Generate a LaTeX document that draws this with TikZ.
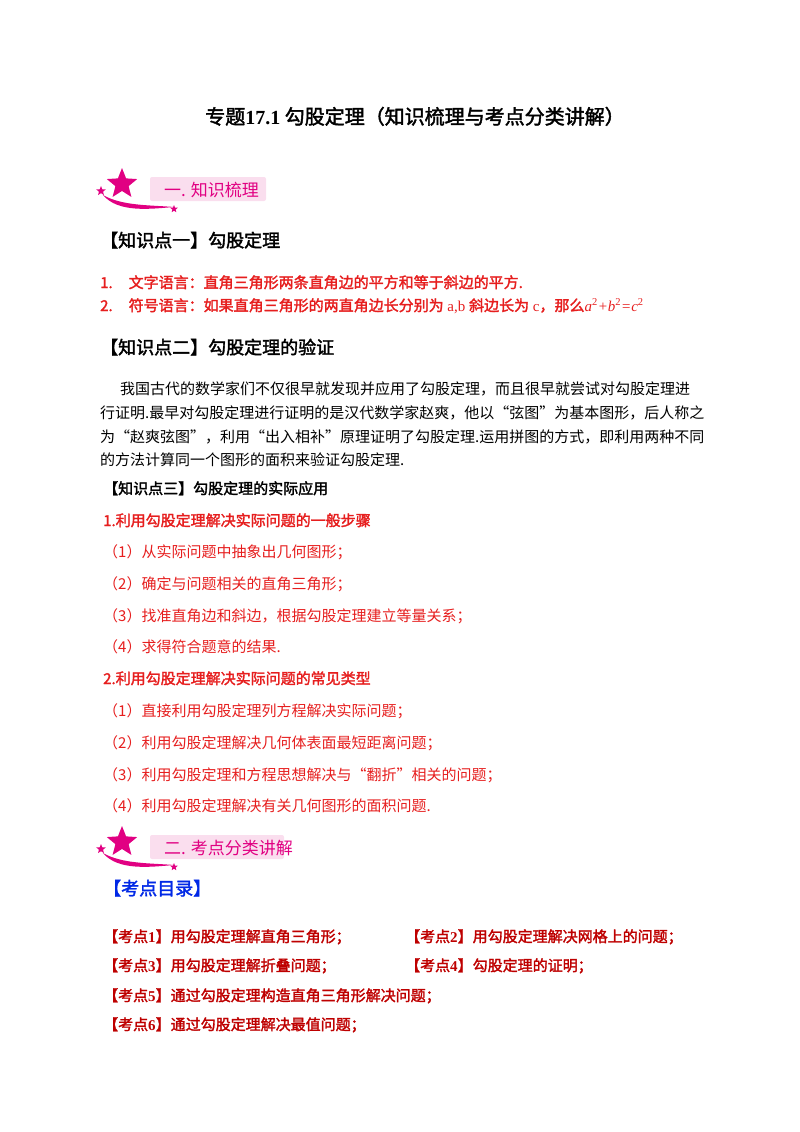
\documentclass[tikz,border=0pt]{standalone}
\usepackage{fontspec}
\setmainfont{Noto Sans CJK SC}[AutoFakeBold=2]
\newfontfamily\lat{Liberation Serif}
\usetikzlibrary{shapes.geometric}
\definecolor{myred}{RGB}{230,30,30}
\definecolor{dred}{RGB}{190,0,0}
\definecolor{mag}{RGB}{225,0,130}
\definecolor{pinkbg}{RGB}{250,222,238}
\definecolor{myblue}{RGB}{0,40,230}
\tikzset{
 t/.style={anchor=base west,inner sep=0pt,font=\fontsize{15}{18}\selectfont},
 h/.style={t,font=\fontsize{18}{21}\selectfont\bfseries},
 rb/.style={t,text=myred,font=\fontsize{15}{18}\selectfont\bfseries},
 rr/.style={t,text=myred},
 kd/.style={t,text=dred,font=\fontsize{15}{18}\selectfont\bfseries},
 starS/.style={star,star points=5,star point ratio=2.3,fill=mag,inner sep=0pt},
}
\newcommand{\banner}[3]{%
 \fill[pinkbg,rounded corners=2pt] (150,#1-12) rectangle (#3,#1+12);
 \node[starS,minimum size=32pt] (#2s) at (122,#1-5) {};
 \node[starS,minimum size=10pt] (#2a) at (101,#1+2) {};
 \node[starS,minimum size=8pt] (#2b) at (174,#1+20) {};
 \fill[mag] (103,#1+6) .. controls (118,#1+24) and (150,#1+20) .. (174,#1+18) .. controls (150,#1+16) and (122,#1+17) .. (103,#1+6) -- cycle;
 \node[t,text=mag,font=\fontsize{17}{20}\selectfont] (#2t) at (164,#1+7) {#2};
}
\begin{document}
\begin{tikzpicture}[x=1pt,y=-1pt]
\useasboundingbox (0,0) rectangle (800,1132);
\node[t,anchor=base,font=\fontsize{20}{24}\selectfont\bfseries] (title) at (415,124) {专题{\lat 17.1} 勾股定理（知识梳理与考点分类讲解）};
\banner{189}{一. 知识梳理}{266}
\node[h] (k1) at (100,247) {【知识点一】勾股定理};
\node[rb] (l1) at (100,288) {1.\hspace{16pt}文字语言：直角三角形两条直角边的平方和等于斜边的平方.};
\node[rb] (l2) at (100,311) {2.\hspace{16pt}符号语言：如果直角三角形的两直角边长分别为{\lat\mdseries\ a,b\ }斜边长为{\lat\mdseries\ c}，那么{\lat\mdseries\itshape a\textsuperscript{\upshape 2}+b\textsuperscript{\upshape 2}=c\textsuperscript{\upshape 2}}};
\node[h] (k2) at (100,354) {【知识点二】勾股定理的验证};
\node[t] (p1) at (120,394) {我国古代的数学家们不仅很早就发现并应用了勾股定理，而且很早就尝试对勾股定理进};
\node[t] (p2) at (100,418) {行证明.最早对勾股定理进行证明的是汉代数学家赵爽，他以“弦图”为基本图形，后人称之};
\node[t] (p3) at (100,442) {为“赵爽弦图”，利用“出入相补”原理证明了勾股定理.运用拼图的方式，即利用两种不同};
\node[t] (p4) at (100,465) {的方法计算同一个图形的面积来验证勾股定理.};
\node[t,font=\fontsize{15}{18}\selectfont\bfseries] (k3) at (103,494) {【知识点三】勾股定理的实际应用};
\node[rb] (a0) at (103,526) {1.利用勾股定理解决实际问题的一般步骤};
\node[rr] (a1) at (103,557) {（1）从实际问题中抽象出几何图形；};
\node[rr] (a2) at (103,589) {（2）确定与问题相关的直角三角形；};
\node[rr] (a3) at (103,621) {（3）找准直角边和斜边，根据勾股定理建立等量关系；};
\node[rr] (a4) at (103,652) {（4）求得符合题意的结果.};
\node[rb] (b0) at (103,684) {2.利用勾股定理解决实际问题的常见类型};
\node[rr] (b1) at (103,716) {（1）直接利用勾股定理列方程解决实际问题；};
\node[rr] (b2) at (103,748) {（2）利用勾股定理解决几何体表面最短距离问题；};
\node[rr] (b3) at (103,780) {（3）利用勾股定理和方程思想解决与“翻折”相关的问题；};
\node[rr] (b4) at (103,811) {（4）利用勾股定理解决有关几何图形的面积问题.};
\banner{847}{二. 考点分类讲解}{284}
\node[h,text=myblue] (ml) at (103,895) {【考点目录】};
\node[kd] (c1) at (103,942) {【考点{\lat 1}】用勾股定理解直角三角形；};
\node[kd] (c2) at (405,942) {【考点{\lat 2}】用勾股定理解决网格上的问题；};
\node[kd] (c3) at (103,971) {【考点{\lat 3}】用勾股定理解折叠问题；};
\node[kd] (c4) at (405,971) {【考点{\lat 4}】勾股定理的证明；};
\node[kd] (c5) at (103,1001) {【考点{\lat 5}】通过勾股定理构造直角三角形解决问题；};
\node[kd] (c6) at (103,1030) {【考点{\lat 6}】通过勾股定理解决最值问题；};
\end{tikzpicture}
\end{document}
